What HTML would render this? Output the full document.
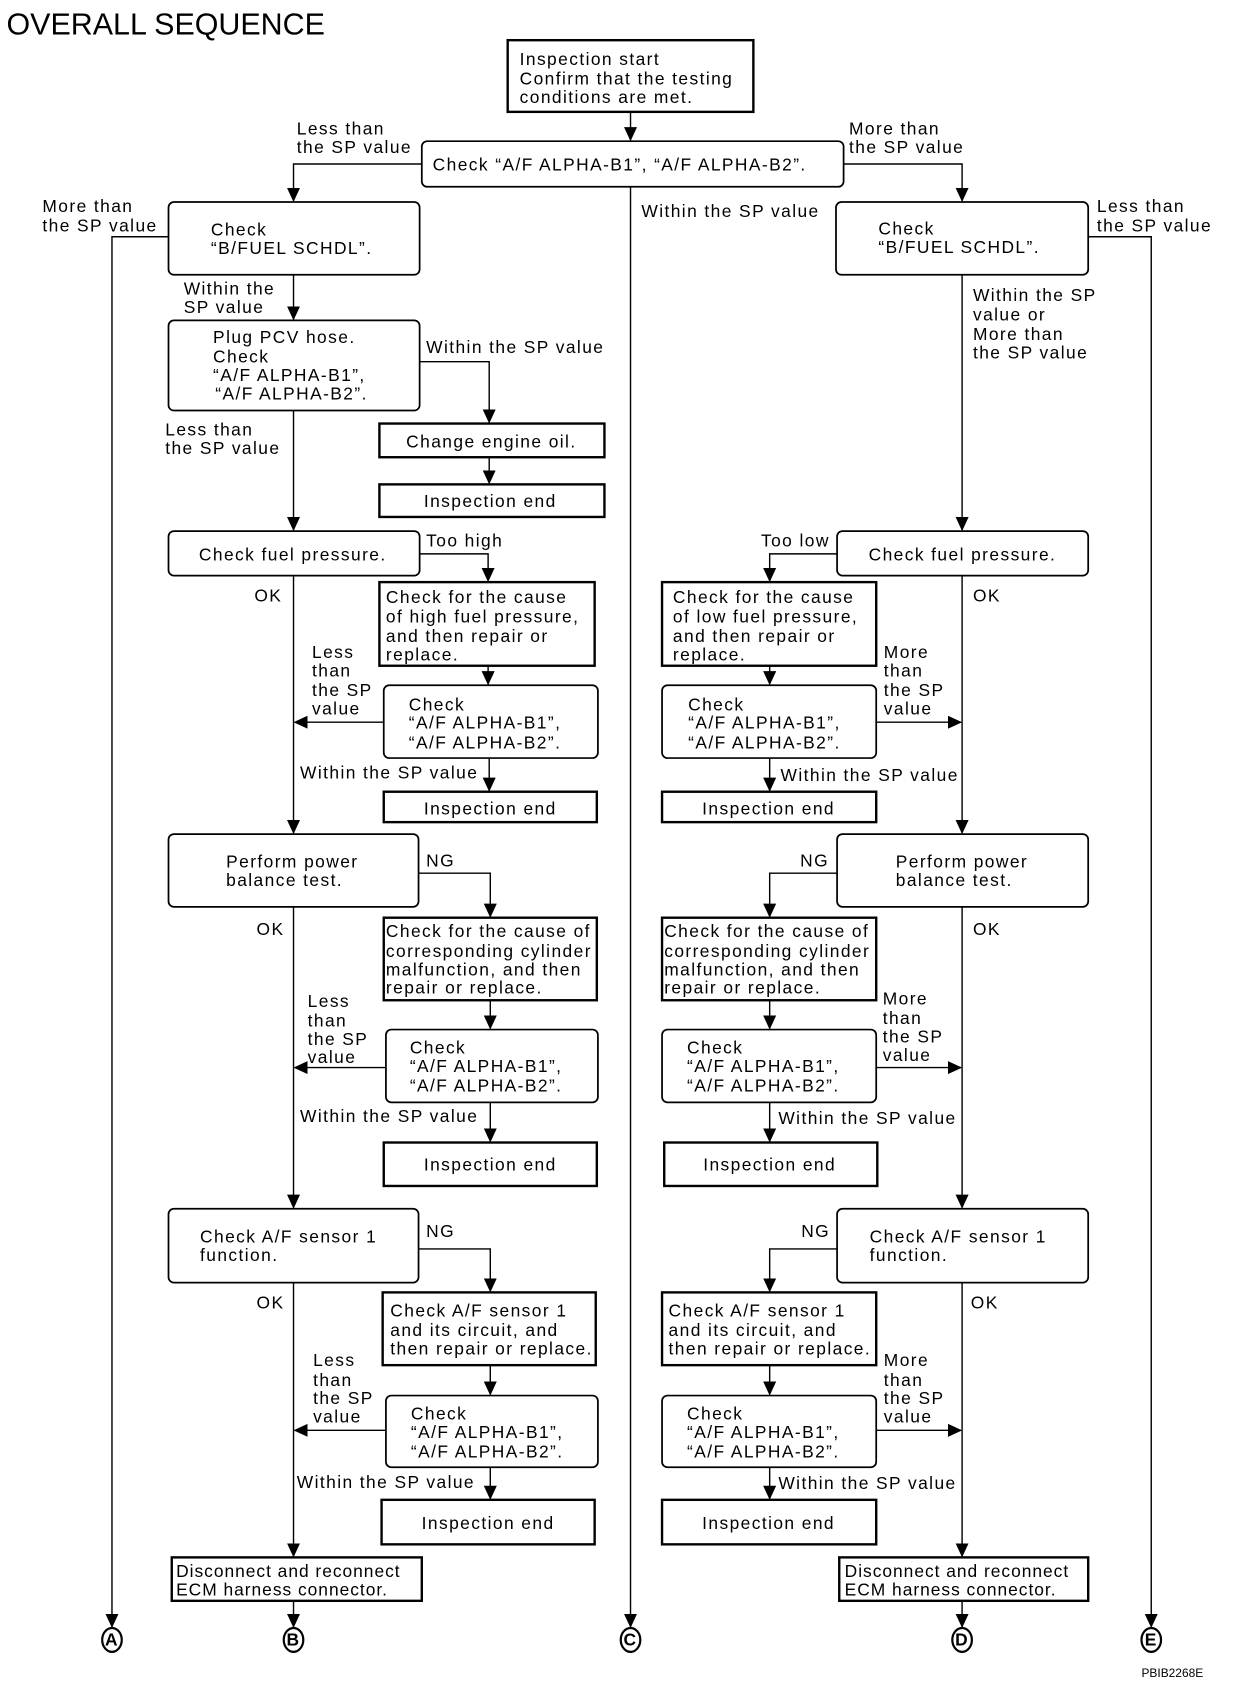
<!DOCTYPE html>
<html><head><meta charset="utf-8"><style>
html,body{margin:0;padding:0;background:#fff;}
svg{display:block;}
text{font-family:"Liberation Sans",sans-serif;font-size:16px;letter-spacing:1.3px;fill:#000;}
.b{fill:#fff;stroke:#000;stroke-width:1.6;}
.s{fill:#fff;stroke:#000;stroke-width:2.2;}
.l{fill:none;stroke:#000;stroke-width:1.3;}
.m{text-anchor:middle;}
</style></head><body>
<svg width="1248" height="1704" viewBox="0 0 1148 1569" preserveAspectRatio="none" xmlns="http://www.w3.org/2000/svg">
<defs>
<marker id="a" markerUnits="userSpaceOnUse" markerWidth="14" markerHeight="12" refX="12" refY="6" orient="auto" viewBox="0 0 14 12"><path d="M0,0 L13,6 L0,12 Z" fill="#000"/></marker>
</defs>
<text x="6" y="32" style="font-size:28px;letter-spacing:0">OVERALL SEQUENCE</text>

<rect class="s" x="467" y="37" width="226" height="66"/>
<text x="478" y="60">Inspection start</text><text x="478" y="78">Confirm that the testing</text><text x="478" y="95">conditions are met.</text>
<path class="l" d="M580,103 V129" marker-end="url(#a)"/>
<rect class="b" x="388" y="130" width="388" height="42" rx="5"/>
<text x="398" y="157">Check “A/F ALPHA-B1”, “A/F ALPHA-B2”.</text>
<path class="l" d="M388,151 H270 V185" marker-end="url(#a)"/>
<text x="273" y="124">Less than</text><text x="273" y="141">the SP value</text>
<path class="l" d="M776,151 H885 V185" marker-end="url(#a)"/>
<text x="781" y="124">More than</text><text x="781" y="141">the SP value</text>
<path class="l" d="M580,172 V1498" marker-end="url(#a)"/>
<text x="590" y="200">Within the SP value</text>

<rect class="b" x="155" y="186" width="231" height="67" rx="5"/>
<text x="194" y="217">Check</text><text x="194" y="234">“B/FUEL SCHDL”.</text>
<path class="l" d="M155,218 H103 V1498" marker-end="url(#a)"/>
<text x="39" y="195">More than</text><text x="39" y="213">the SP value</text>
<rect class="b" x="769" y="186" width="232" height="67" rx="5"/>
<text x="808" y="216">Check</text><text x="808" y="233">“B/FUEL SCHDL”.</text>
<path class="l" d="M1001,218 H1059 V1498" marker-end="url(#a)"/>
<text x="1009" y="195">Less than</text><text x="1009" y="213">the SP value</text>

<!-- LEFT -->
<path class="l" d="M270,253 V294" marker-end="url(#a)"/>
<text x="169" y="271">Within the</text><text x="169" y="288">SP value</text>
<rect class="b" x="155" y="295" width="231" height="83" rx="5"/>
<text x="196" y="316">Plug PCV hose.</text><text x="196" y="334">Check</text><text x="196" y="351">“A/F ALPHA-B1”,</text><text x="198" y="368">“A/F ALPHA-B2”.</text>
<path class="l" d="M386,333 H450 V389" marker-end="url(#a)"/>
<text x="392" y="325">Within the SP value</text>
<rect class="s" x="349" y="390" width="207" height="31"/>
<text class="m" x="452" y="412">Change engine oil.</text>
<path class="l" d="M450,421 V445" marker-end="url(#a)"/>
<rect class="s" x="349" y="446" width="207" height="30"/>
<text class="m" x="451" y="467">Inspection end</text>
<path class="l" d="M270,378 V488" marker-end="url(#a)"/>
<text x="152" y="401">Less than</text><text x="152" y="418">the SP value</text>

<rect class="b" x="155" y="489" width="231" height="41" rx="5"/>
<text x="183" y="516">Check fuel pressure.</text>
<text x="392" y="503">Too high</text>
<path class="l" d="M386,510 H449 V535" marker-end="url(#a)"/>
<rect class="s" x="349" y="536" width="198" height="77"/>
<text x="355" y="555">Check for the cause</text><text x="355" y="573">of high fuel pressure,</text><text x="355" y="591">and then repair or</text><text x="355" y="608">replace.</text>
<path class="l" d="M449,613 V630" marker-end="url(#a)"/>
<rect class="b" x="353" y="631" width="197" height="67" rx="5"/>
<text x="376" y="654">Check</text><text x="376" y="671">“A/F ALPHA-B1”,</text><text x="376" y="689">“A/F ALPHA-B2”.</text>
<path class="l" d="M353,665 H271" marker-end="url(#a)"/>
<text x="287" y="606">Less</text><text x="287" y="623">than</text><text x="287" y="641">the SP</text><text x="287" y="658">value</text>
<path class="l" d="M450,698 V728" marker-end="url(#a)"/>
<text x="276" y="717">Within the SP value</text>
<rect class="s" x="353" y="729" width="196" height="28"/>
<text class="m" x="451" y="750">Inspection end</text>
<text x="234" y="554">OK</text>
<path class="l" d="M270,530 V767" marker-end="url(#a)"/>

<rect class="b" x="155" y="768" width="230" height="67" rx="5"/>
<text x="208" y="799">Perform power</text><text x="208" y="816">balance test.</text>
<text x="392" y="798">NG</text>
<path class="l" d="M385,804 H451 V844" marker-end="url(#a)"/>
<rect class="s" x="353" y="845" width="196" height="76"/>
<text x="355" y="863">Check for the cause of</text><text x="355" y="881">corresponding cylinder</text><text x="355" y="898">malfunction, and then</text><text x="355" y="915">repair or replace.</text>
<path class="l" d="M451,921 V947" marker-end="url(#a)"/>
<rect class="b" x="355" y="948" width="195" height="67" rx="5"/>
<text x="377" y="970">Check</text><text x="377" y="987">“A/F ALPHA-B1”,</text><text x="377" y="1005">“A/F ALPHA-B2”.</text>
<path class="l" d="M355,983 H271" marker-end="url(#a)"/>
<text x="283" y="927">Less</text><text x="283" y="945">than</text><text x="283" y="962">the SP</text><text x="283" y="979">value</text>
<text x="276" y="1033">Within the SP value</text>
<path class="l" d="M451,1015 V1051" marker-end="url(#a)"/>
<rect class="s" x="353" y="1052" width="196" height="40"/>
<text class="m" x="451" y="1078">Inspection end</text>
<text x="236" y="861">OK</text>
<path class="l" d="M270,835 V1112" marker-end="url(#a)"/>

<rect class="b" x="155" y="1113" width="230" height="68" rx="5"/>
<text x="184" y="1144">Check A/F sensor 1</text><text x="184" y="1161">function.</text>
<text x="392" y="1139">NG</text>
<path class="l" d="M385,1150 H451 V1189" marker-end="url(#a)"/>
<rect class="s" x="352" y="1190" width="196" height="67"/>
<text x="359" y="1212">Check A/F sensor 1</text><text x="359" y="1230">and its circuit, and</text><text x="359" y="1247">then repair or replace.</text>
<path class="l" d="M451,1257 V1284" marker-end="url(#a)"/>
<rect class="b" x="355" y="1285" width="195" height="66" rx="5"/>
<text x="378" y="1307">Check</text><text x="378" y="1324">“A/F ALPHA-B1”,</text><text x="378" y="1342">“A/F ALPHA-B2”.</text>
<path class="l" d="M355,1317 H271" marker-end="url(#a)"/>
<text x="288" y="1258">Less</text><text x="288" y="1276">than</text><text x="288" y="1293">the SP</text><text x="288" y="1310">value</text>
<text x="273" y="1370">Within the SP value</text>
<path class="l" d="M451,1351 V1380" marker-end="url(#a)"/>
<rect class="s" x="351" y="1381" width="196" height="41"/>
<text class="m" x="449" y="1408">Inspection end</text>
<text x="236" y="1205">OK</text>
<path class="l" d="M270,1181 V1433" marker-end="url(#a)"/>
<rect class="s" x="158" y="1434" width="230" height="40"/>
<text x="162" y="1452" style="letter-spacing:0.9px">Disconnect and reconnect</text><text x="162" y="1469" style="letter-spacing:0.9px">ECM harness connector.</text>
<path class="l" d="M270,1474 V1498" marker-end="url(#a)"/>

<!-- RIGHT -->
<path class="l" d="M885,253 V488" marker-end="url(#a)"/>
<text x="895" y="277">Within the SP</text><text x="895" y="295">value or</text><text x="895" y="313">More than</text><text x="895" y="330">the SP value</text>
<rect class="b" x="770" y="489" width="231" height="41" rx="5"/>
<text x="799" y="516">Check fuel pressure.</text>
<text x="700" y="503">Too low</text>
<path class="l" d="M770,510 H708 V535" marker-end="url(#a)"/>
<rect class="s" x="609" y="536" width="197" height="77"/>
<text x="619" y="555">Check for the cause</text><text x="619" y="573">of low fuel pressure,</text><text x="619" y="591">and then repair or</text><text x="619" y="608">replace.</text>
<path class="l" d="M708,613 V630" marker-end="url(#a)"/>
<rect class="b" x="609" y="631" width="197" height="67" rx="5"/>
<text x="633" y="654">Check</text><text x="633" y="671">“A/F ALPHA-B1”,</text><text x="633" y="689">“A/F ALPHA-B2”.</text>
<path class="l" d="M806,665 H884" marker-end="url(#a)"/>
<text x="813" y="606">More</text><text x="813" y="623">than</text><text x="813" y="641">the SP</text><text x="813" y="658">value</text>
<path class="l" d="M708,698 V728" marker-end="url(#a)"/>
<text x="718" y="719">Within the SP value</text>
<rect class="s" x="609" y="729" width="197" height="28"/>
<text class="m" x="707" y="750">Inspection end</text>
<text x="895" y="554">OK</text>
<path class="l" d="M885,530 V767" marker-end="url(#a)"/>

<rect class="b" x="770" y="768" width="231" height="67" rx="5"/>
<text x="824" y="799">Perform power</text><text x="824" y="816">balance test.</text>
<text x="736" y="798">NG</text>
<path class="l" d="M770,804 H708 V844" marker-end="url(#a)"/>
<rect class="s" x="609" y="845" width="197" height="76"/>
<text x="611" y="863">Check for the cause of</text><text x="611" y="881">corresponding cylinder</text><text x="611" y="898">malfunction, and then</text><text x="611" y="915">repair or replace.</text>
<path class="l" d="M708,921 V947" marker-end="url(#a)"/>
<rect class="b" x="609" y="948" width="197" height="67" rx="5"/>
<text x="632" y="970">Check</text><text x="632" y="987">“A/F ALPHA-B1”,</text><text x="632" y="1005">“A/F ALPHA-B2”.</text>
<path class="l" d="M806,983 H884" marker-end="url(#a)"/>
<text x="812" y="925">More</text><text x="812" y="943">than</text><text x="812" y="960">the SP</text><text x="812" y="977">value</text>
<text x="716" y="1035">Within the SP value</text>
<path class="l" d="M708,1015 V1051" marker-end="url(#a)"/>
<rect class="s" x="611" y="1052" width="196" height="40"/>
<text class="m" x="708" y="1078">Inspection end</text>
<text x="895" y="861">OK</text>
<path class="l" d="M885,835 V1112" marker-end="url(#a)"/>

<rect class="b" x="770" y="1113" width="231" height="68" rx="5"/>
<text x="800" y="1144">Check A/F sensor 1</text><text x="800" y="1161">function.</text>
<text x="737" y="1139">NG</text>
<path class="l" d="M770,1150 H708 V1189" marker-end="url(#a)"/>
<rect class="s" x="609" y="1190" width="197" height="67"/>
<text x="615" y="1212">Check A/F sensor 1</text><text x="615" y="1230">and its circuit, and</text><text x="615" y="1247">then repair or replace.</text>
<path class="l" d="M708,1257 V1284" marker-end="url(#a)"/>
<rect class="b" x="609" y="1285" width="197" height="66" rx="5"/>
<text x="632" y="1307">Check</text><text x="632" y="1324">“A/F ALPHA-B1”,</text><text x="632" y="1342">“A/F ALPHA-B2”.</text>
<path class="l" d="M806,1317 H884" marker-end="url(#a)"/>
<text x="813" y="1258">More</text><text x="813" y="1276">than</text><text x="813" y="1293">the SP</text><text x="813" y="1310">value</text>
<text x="716" y="1371">Within the SP value</text>
<path class="l" d="M708,1351 V1380" marker-end="url(#a)"/>
<rect class="s" x="609" y="1381" width="197" height="41"/>
<text class="m" x="707" y="1408">Inspection end</text>
<text x="893" y="1205">OK</text>
<path class="l" d="M885,1181 V1433" marker-end="url(#a)"/>
<rect class="s" x="772" y="1434" width="229" height="40"/>
<text x="777" y="1452" style="letter-spacing:0.9px">Disconnect and reconnect</text><text x="777" y="1469" style="letter-spacing:0.9px">ECM harness connector.</text>
<path class="l" d="M885,1474 V1498" marker-end="url(#a)"/>

<!-- connectors -->
<g style="fill:#fff;stroke:#000;stroke-width:2">
<ellipse cx="103" cy="1510" rx="9" ry="11"/><ellipse cx="270" cy="1510" rx="9" ry="11"/><ellipse cx="580" cy="1510" rx="9" ry="11"/><ellipse cx="885" cy="1510" rx="9" ry="11"/><ellipse cx="1059" cy="1510" rx="9" ry="11"/>
</g>
<g style="font-weight:bold;font-size:14px;letter-spacing:0">
<text class="m" x="103" y="1515">A</text><text class="m" x="270" y="1515">B</text><text class="m" x="580" y="1515">C</text><text class="m" x="885" y="1515">D</text><text class="m" x="1059" y="1515">E</text>
</g>
<text x="1050" y="1544" style="font-size:11px;letter-spacing:0">PBIB2268E</text>
</svg>
</body></html>
